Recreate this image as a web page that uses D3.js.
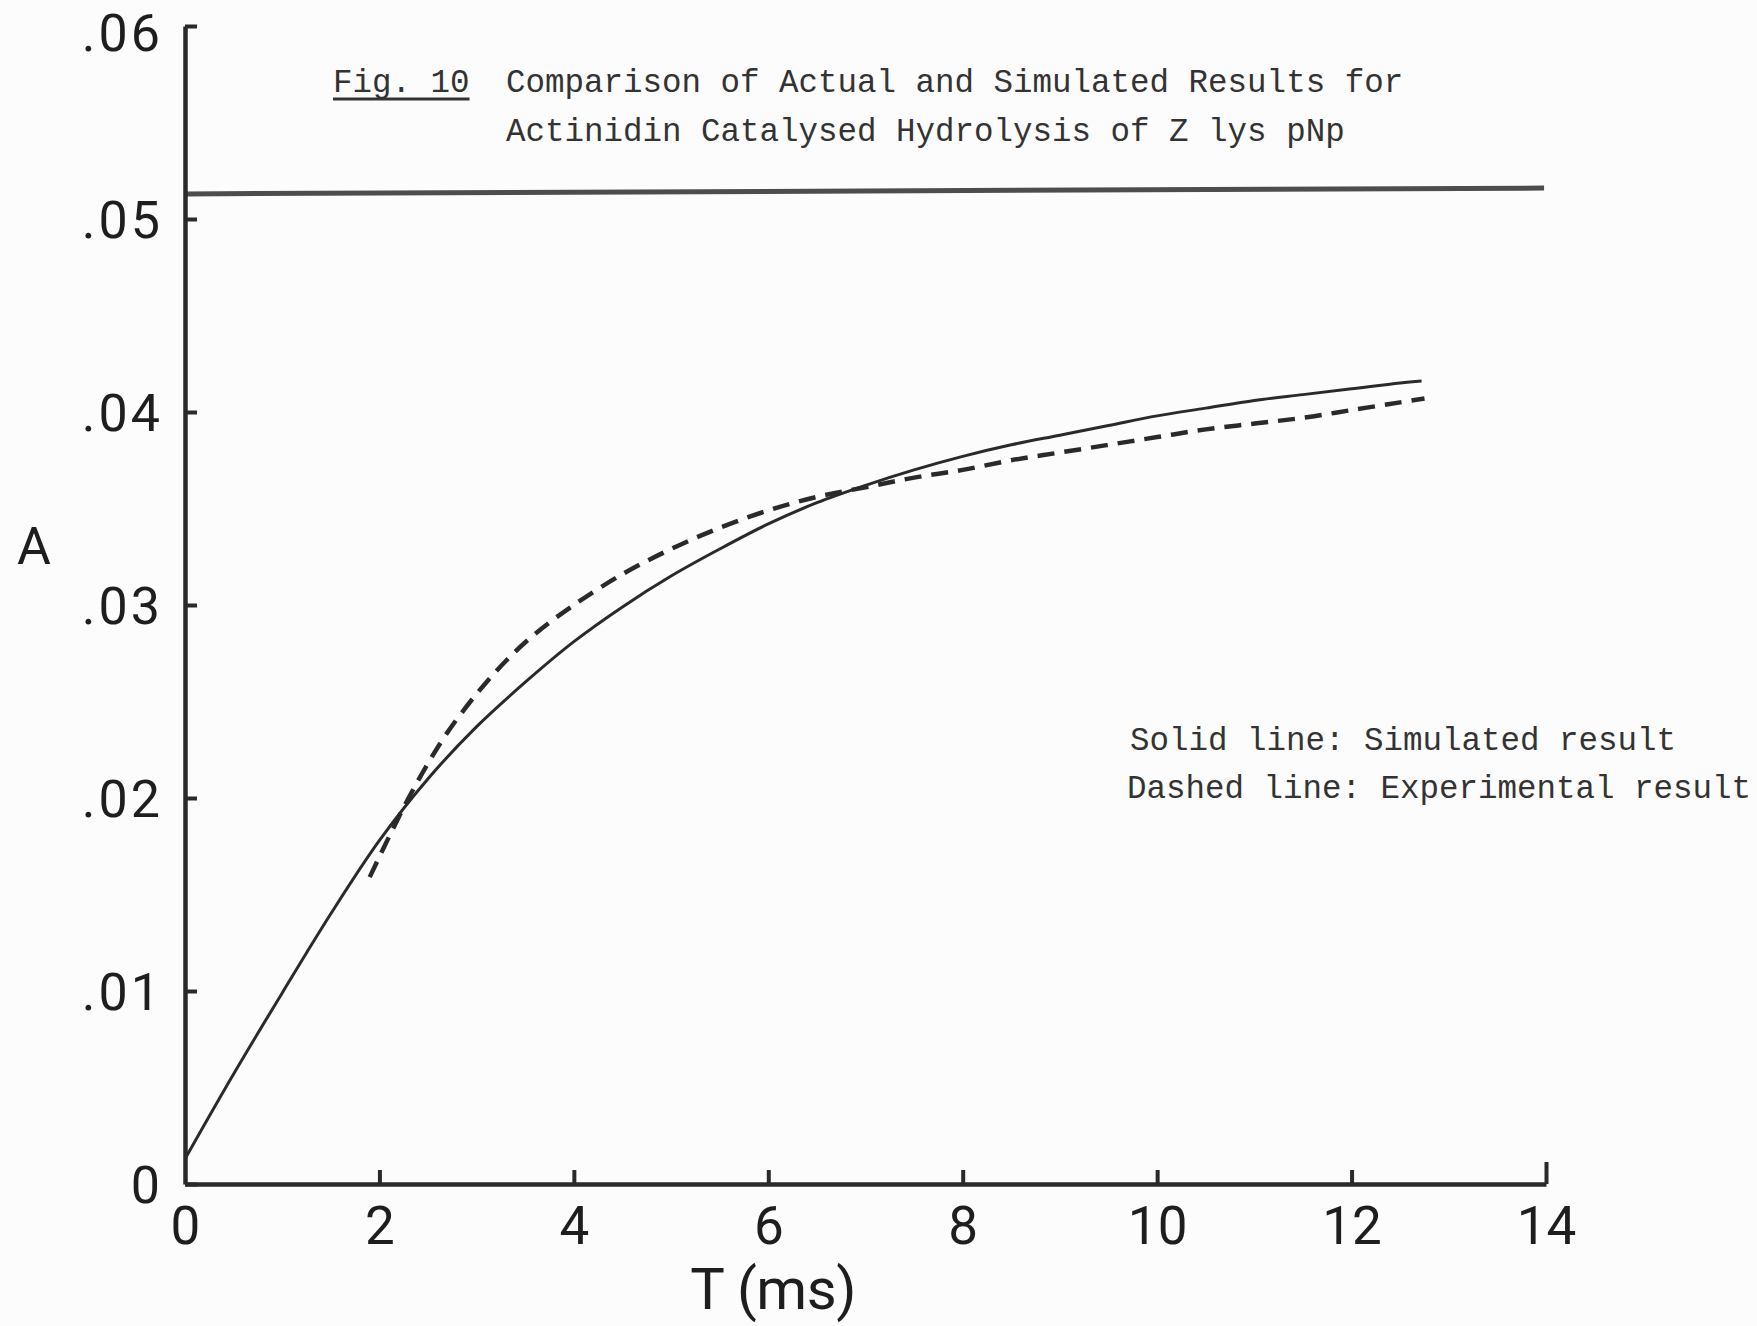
<!DOCTYPE html>
<html>
<head>
<meta charset="utf-8">
<script src="https://cdn.jsdelivr.net/npm/d3@7"></script>
<style>
  html, body { margin: 0; padding: 0; background: #fcfcfc; }
  svg { display: block; }
</style>
</head>
<body>
<svg id="chart" width="1757" height="1326"></svg>
<script>
// Time axis (ms) and absorbance axis
const xTicks = [0, 2, 4, 6, 8, 10, 12, 14];
const xTickLabels = ["0", "2", "4", "6", "8", "10", "12", "14"];
const yTicks = [0, 0.01, 0.02, 0.03, 0.04, 0.05, 0.06];
const yTickLabels = ["0", ".01", ".02", ".03", ".04", ".05", ".06"];

// Simulated result (solid line)
const simT = [0, 0.5, 1, 1.5, 2, 2.5, 3, 3.5, 4, 4.5, 5, 5.5, 6, 6.5, 7, 7.5, 8, 8.5, 9, 9.5, 10, 10.5, 11, 11.5, 12, 12.5, 12.72];
const simA = [0.0013, 0.0057, 0.0099, 0.0140, 0.0178, 0.0210, 0.0237, 0.0260, 0.0281, 0.0299, 0.0315, 0.0329, 0.0342, 0.0353, 0.0362, 0.0370, 0.0377, 0.0383, 0.0388, 0.0393, 0.0398, 0.0402, 0.0406, 0.0409, 0.0412, 0.0415, 0.0416];

// Experimental result (dashed line)
const expT = [1.9, 2.1, 2.3, 2.5, 2.7, 3.0, 3.3, 3.6, 4.0, 4.5, 5.0, 5.5, 6.0, 6.5, 7.0, 7.5, 8.0, 8.5, 9.0, 9.5, 10.0, 10.5, 11.0, 11.5, 12.0, 12.5, 12.75];
const expA = [0.0159, 0.0180, 0.0200, 0.0218, 0.0234, 0.0254, 0.0271, 0.0285, 0.0300, 0.0316, 0.0329, 0.0340, 0.0349, 0.0356, 0.0361, 0.0366, 0.0370, 0.0375, 0.0379, 0.0383, 0.0387, 0.0391, 0.0394, 0.0397, 0.0401, 0.0405, 0.0407];

// Upper horizontal reference line
const refT = [0, 13.98];
const refA = [0.0513, 0.0516];

const titleFig = "Fig. 10";
const titleLines = ["Comparison of Actual and Simulated Results for", "Actinidin Catalysed Hydrolysis of Z lys pNp"];
const legendLines = ["Solid line: Simulated result", "Dashed line: Experimental result"];
const xLabel = "T (ms)";
const yLabel = "A";

const ink = "#2a2a2a";
const svg = d3.select("#chart");

const x = d3.scaleLinear().domain([0, 14]).range([185, 1546]);
const y = d3.scaleLinear().domain([0, 0.06]).range([1184, 26]);

const line = d3.line()
  .x(d => x(d[0]))
  .y(d => y(d[1]))
  .curve(d3.curveCatmullRom.alpha(0.5));

const sim = simT.map((t, i) => [t, simA[i]]);
const exp = expT.map((t, i) => [t, expA[i]]);
const ref = refT.map((t, i) => [t, refA[i]]);

// reference level line
svg.append("path")
  .attr("d", d3.line().x(d => x(d[0])).y(d => y(d[1]))(ref))
  .attr("fill", "none")
  .attr("stroke", "#4d4d4d")
  .attr("stroke-width", 5);

// curves
svg.append("path")
  .attr("d", line(sim))
  .attr("fill", "none")
  .attr("stroke", ink)
  .attr("stroke-width", 3);

svg.append("path")
  .attr("d", line(exp))
  .attr("fill", "none")
  .attr("stroke", ink)
  .attr("stroke-width", 4.5)
  .attr("stroke-dasharray", "17 10");

// y axis
const yAxis = d3.axisLeft(y)
  .tickValues(yTicks)
  .tickFormat((d, i) => yTickLabels[i])
  .tickSizeInner(-12)
  .tickSizeOuter(0)
  .tickPadding(22);

const gy = svg.append("g").attr("transform", `translate(${x(0)},0)`).call(yAxis);
gy.select(".domain").attr("stroke", ink).attr("stroke-width", 4.5);
gy.selectAll(".tick line").attr("stroke", ink).attr("stroke-width", 4);
gy.selectAll(".tick text")
  .attr("fill", "#1e1e1e")
  .style("font-family", "Roboto, 'DejaVu Sans', sans-serif")
  .style("font-size", "52px")
  .style("letter-spacing", "3px")
  .attr("dy", d => d === 0.06 ? "0.47em" : "0.36em");

// x axis
const xAxis = d3.axisBottom(x)
  .tickValues(xTicks)
  .tickFormat((d, i) => xTickLabels[i])
  .tickSizeInner(-14)
  .tickSizeOuter(0)
  .tickPadding(22);

const gx = svg.append("g").attr("transform", `translate(0,${y(0)})`).call(xAxis);
gx.select(".domain").attr("stroke", ink).attr("stroke-width", 4.5);
gx.selectAll(".tick line").attr("stroke", ink).attr("stroke-width", 4)
  .attr("y2", d => d === 0 ? 0 : (d === 14 ? -22 : -14));
gx.selectAll(".tick text")
  .attr("fill", "#1e1e1e")
  .style("font-family", "Roboto, 'DejaVu Sans', sans-serif")
  .style("font-size", "53px")
  .attr("dy", "0.71em");

// axis titles
svg.append("text")
  .attr("x", 773).attr("y", 1309)
  .attr("text-anchor", "middle")
  .attr("fill", "#1e1e1e")
  .style("font-family", "Roboto, 'DejaVu Sans', sans-serif")
  .style("font-size", "58px")
  .style("letter-spacing", "-0.5px")
  .text(xLabel);

svg.append("text")
  .attr("x", 34).attr("y", 564)
  .attr("text-anchor", "middle")
  .attr("fill", "#1e1e1e")
  .style("font-family", "Roboto, 'DejaVu Sans', sans-serif")
  .style("font-size", "52px")
  .text(yLabel);

// typed caption
const mono = "'Liberation Mono', 'DejaVu Sans Mono', monospace";
const fig = svg.append("text")
  .attr("x", 333).attr("y", 92)
  .attr("fill", "#333")
  .style("font-family", mono)
  .style("font-size", "32.5px")
  .text(titleFig);
const figBox = fig.node().getBBox();
svg.append("line")
  .attr("x1", figBox.x).attr("x2", figBox.x + figBox.width)
  .attr("y1", 99).attr("y2", 99)
  .attr("stroke", "#333").attr("stroke-width", 3);

svg.selectAll("text.title")
  .data(titleLines)
  .join("text")
  .attr("class", "title")
  .attr("x", 506)
  .attr("y", (d, i) => 92 + i * 49)
  .attr("fill", "#333")
  .style("font-family", mono)
  .style("font-size", "32.5px")
  .text(d => d);

svg.selectAll("text.legend")
  .data(legendLines)
  .join("text")
  .attr("class", "legend")
  .attr("x", (d, i) => i === 0 ? 1130 : 1127)
  .attr("y", (d, i) => 750 + i * 48)
  .attr("fill", "#333")
  .style("font-family", mono)
  .style("font-size", "32.5px")
  .text(d => d);
</script>
</body>
</html>
